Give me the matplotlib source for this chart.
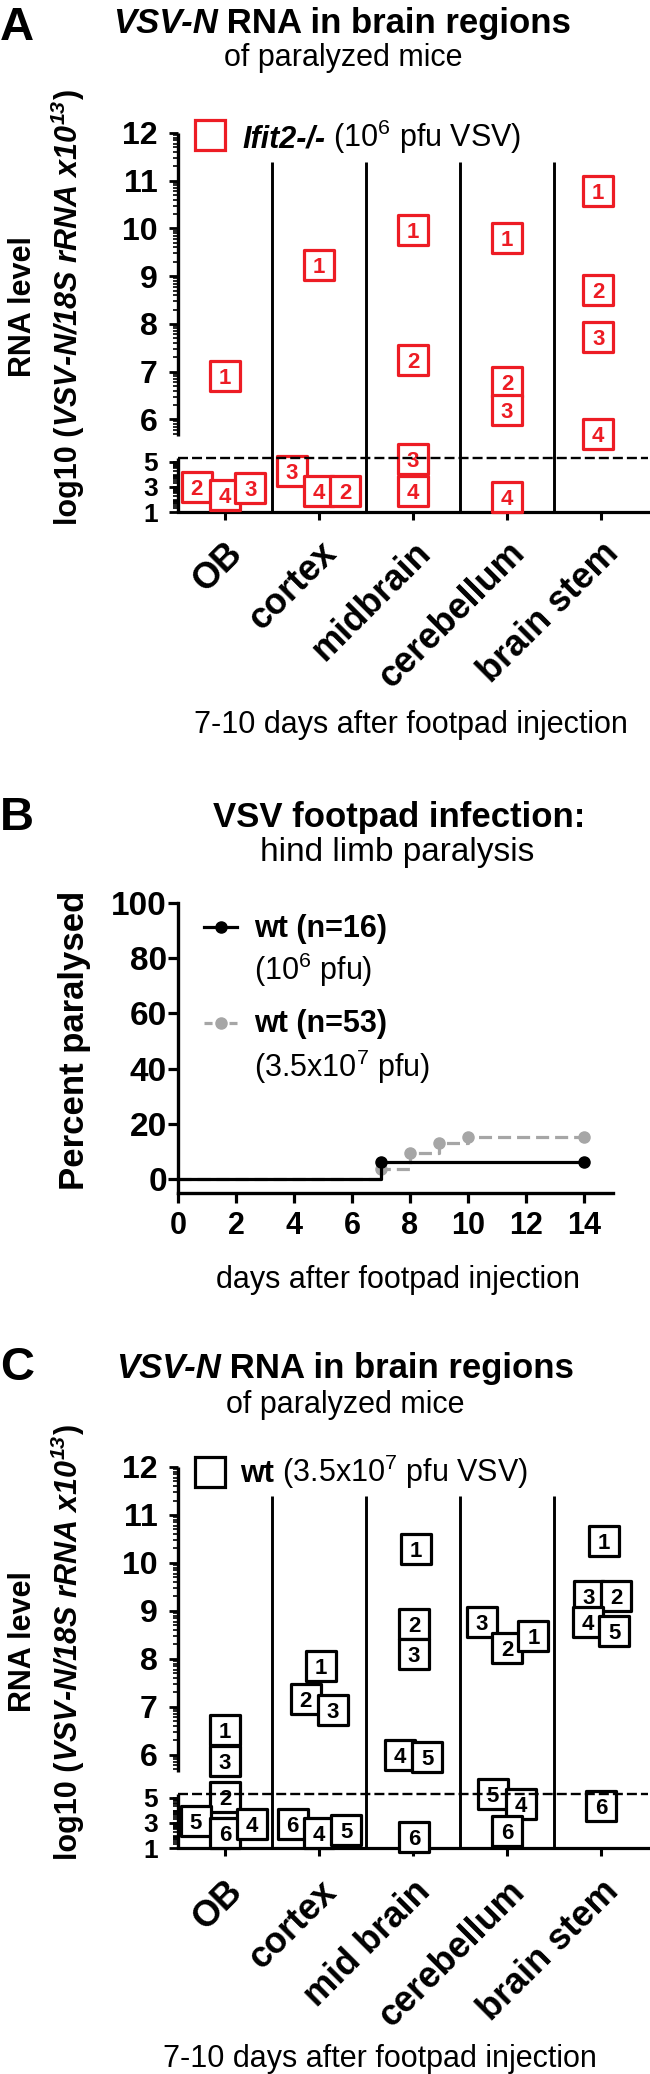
"""VSV-N RNA in brain regions (A, C) and hind limb paralysis after footpad infection (B)."""

import numpy as np
import matplotlib
matplotlib.use("Agg")
import matplotlib.pyplot as plt
from matplotlib.lines import Line2D

W, H, DPI = 650, 2074, 100
RED = "#ed1c24"
GREY = "#a6a6a6"

# Panel A: Ifit2-/- mice, 10^6 pfu (region index, x jitter, log10 level, mouse id)
A_REGIONS = ["OB", "cortex", "midbrain", "cerebellum", "brain stem"]
A_REGION = [0, 0, 0, 0, 1, 1, 1, 1, 2, 2, 2, 2, 3, 3, 3, 3, 4, 4, 4, 4]
A_DX = [0, -0.30, 0, 0.27, 0, -0.29, 0, 0.28, 0, 0, 0, 0,
        0, 0, 0, 0, -0.03, -0.03, -0.03, -0.03]
A_LEVEL = [6.91, 2.99, 2.35, 2.91, 9.23, 4.26, 2.67, 2.67, 9.97, 7.24, 5.22, 2.67,
           9.80, 6.78, 6.19, 2.19, 10.78, 8.71, 7.72, 5.69]
A_MOUSE = ["1", "2", "4", "3", "1", "3", "4", "2", "1", "2", "3", "4",
           "1", "2", "3", "4", "1", "2", "3", "4"]

# Panel B: Kaplan-Meier style paralysis curves
B_DAYS_LOW = [0, 7, 14]
B_PCT_LOW = [0, 6.25, 6.25]
B_DAYS_HIGH = [0, 7, 8, 9, 10, 14]
B_PCT_HIGH = [0, 3.77, 9.43, 13.21, 15.09, 15.09]
B_XTICKS = [0, 2, 4, 6, 8, 10, 12, 14]
B_YTICKS = [0, 20, 40, 60, 80, 100]

# Panel C: wt mice, 3.5x10^7 pfu
C_REGIONS = ["OB", "cortex", "mid brain", "cerebellum", "brain stem"]
C_REGION = [0] * 6 + [1] * 6 + [2] * 6 + [3] * 6 + [4] * 6
C_DX = [0, 0, 0, -0.31, 0, 0.29,
        0.02, -0.14, 0.15, -0.28, 0, 0.29,
        0.03, 0.01, 0.01, -0.14, 0.15, 0.01,
        -0.27, 0, 0.28, -0.15, 0.15, 0,
        0.03, -0.13, 0.16, -0.14, 0.14, 0]
C_LEVEL = [6.51, 5.88, 5.06, 3.15, 2.19, 2.91,
           7.85, 7.16, 6.93, 2.91, 2.19, 2.43,
           10.30, 8.73, 8.10, 5.99, 5.96, 1.88,
           8.77, 8.23, 8.48, 5.30, 4.50, 2.35,
           10.45, 9.32, 9.32, 8.77, 8.59, 4.34]
C_MOUSE = ["1", "3", "2", "5", "6", "4",
           "1", "2", "3", "6", "4", "5",
           "1", "2", "3", "4", "5", "6",
           "3", "2", "1", "5", "4", "6",
           "1", "3", "2", "4", "5", "6"]

RNA_MAJOR = [1, 3, 5, 6, 7, 8, 9, 10, 11, 12]
DETECTION = 5.3

# segmented (Prism-like) y axis: level -> height in px above the x axis
BREAK_LEVEL = [1, 5.3, 5.65, 12]
BREAK_HEIGHT = [0, 54, 76, 379]

plt.rcParams["font.family"] = ["Liberation Sans", "DejaVu Sans"]
plt.rcParams["lines.scale_dashes"] = False

BOLD = dict(fontweight="bold")
BOLD_IT = dict(fontweight="bold", fontstyle="italic")
REG = dict()


def fx(x):
    return x / W


def fy(y):
    return 1 - y / H


def _piecewise(v, xs, ys):
    v = np.asarray(v, dtype=float)
    out = np.interp(v, xs, ys)
    lo_slope = (ys[1] - ys[0]) / (xs[1] - xs[0])
    hi_slope = (ys[-1] - ys[-2]) / (xs[-1] - xs[-2])
    out = np.where(v < xs[0], ys[0] + (v - xs[0]) * lo_slope, out)
    out = np.where(v > xs[-1], ys[-1] + (v - xs[-1]) * hi_slope, out)
    return out


def forward(v):
    return _piecewise(v, BREAK_LEVEL, BREAK_HEIGHT)


def inverse(h):
    return _piecewise(h, BREAK_HEIGHT, BREAK_LEVEL)


def text_runs(fig, x, y, runs, size, ha="center", rotation=0):
    """Write mixed-style text pieces one after another (pixel coords, baseline y)."""
    renderer = fig.canvas.get_renderer()
    widths = []
    for s, style in runs:
        t = fig.text(0, 0, s, fontsize=size, **style)
        widths.append(t.get_window_extent(renderer).width)
        t.remove()
    pos = {"left": 0.0, "center": -sum(widths) / 2, "right": -sum(widths)}[ha]
    for (s, style), w in zip(runs, widths):
        if rotation:
            fig.text(fx(x), fy(y - pos), s, fontsize=size, rotation=90,
                     rotation_mode="anchor", ha="left", va="baseline", **style)
        else:
            fig.text(fx(x + pos), fy(y), s, fontsize=size, ha="left",
                     va="baseline", **style)
        pos += w


def rna_panel(fig, top, bottom, regions, region, dx, level, mouse, color, label_pad):
    ax = fig.add_axes([fx(178), fy(bottom), (648 - 178) / W, (bottom - top) / H])
    ax.set_yscale("function", functions=(forward, inverse))
    ax.set_xlim(-0.5, 4.5)
    ax.set_ylim(1, 12)
    ax.spines[["top", "right", "left"]].set_visible(False)
    ax.spines["bottom"].set_linewidth(2.3)
    for lo, hi in [(BREAK_LEVEL[0], BREAK_LEVEL[1]), (BREAK_LEVEL[2], BREAK_LEVEL[3])]:
        ax.plot([-0.5, -0.5], [lo, hi], color="black", lw=2.4, clip_on=False,
                solid_capstyle="butt")
    ax.vlines(np.arange(len(regions) - 1) + 0.5, 1, 11.4, color="black", lw=2.1)
    ax.axhline(DETECTION, color="black", lw=1.7, dashes=(7.2, 2.9), zorder=6)

    xs = np.array(region) + np.array(dx)
    for i, (x, y, m) in enumerate(zip(xs, level, mouse)):
        z = 3 + i * 0.01
        ax.scatter([x], [y], marker="s", s=21 ** 2, facecolor="white",
                   edgecolor=color, linewidth=2.3, zorder=z, clip_on=False)
        ax.text(x, y, m, color=color, ha="center", va="center_baseline",
                fontsize=16, fontweight="bold", zorder=z + 0.005)

    ax.set_yticks(RNA_MAJOR, [str(t) for t in RNA_MAJOR], fontweight="bold")
    for lab, t in zip(ax.get_yticklabels(), RNA_MAJOR):
        lab.set_fontsize(19 if t <= 5 else 23)
    minor = []
    for n in range(1, 12):
        for k in range(2, 10):
            t = n + np.log10(k)
            if t <= BREAK_LEVEL[1] or BREAK_LEVEL[2] <= t <= 12:
                minor.append(t)
    ax.set_yticks(minor, minor=True)
    ax.tick_params(axis="y", which="major", length=6.5, width=2.0, pad=8)
    ax.tick_params(axis="y", which="minor", length=3.6, width=1.2)
    ax.set_xticks(range(len(regions)), regions, rotation=45, ha="right",
                  rotation_mode="anchor", fontsize=26, fontweight="bold")
    ax.tick_params(axis="x", length=5.8, width=2.2, pad=label_pad)
    return ax


def rna_ylabel(fig, cy):
    fig.text(fx(31), fy(cy), "RNA level", fontsize=22, rotation=90,
             rotation_mode="anchor", ha="center", va="baseline", **BOLD)
    text_runs(fig, 77, cy, [("log10 (", BOLD),
                            ("VSV-N/18S rRNA x10$^{\\mathdefault{13}}$", BOLD_IT),
                            (")", BOLD)], 22, ha="center", rotation=90)


def main():
    fig = plt.figure(figsize=(W / DPI, H / DPI), dpi=DPI)

    # ---------------- panel A ----------------
    fig.text(fx(0), fy(40), "A", fontsize=34, ha="left", va="baseline", **BOLD)
    text_runs(fig, 342, 33, [("VSV-N", BOLD_IT), (" RNA in brain regions", BOLD)], 25)
    fig.text(fx(343), fy(66), "of paralyzed mice", fontsize=22, ha="center", va="baseline")
    fig.add_artist(Line2D([fx(210)], [fy(135)], marker="s", markersize=21,
                          mfc="white", mec=RED, mew=2.3, transform=fig.transFigure))
    text_runs(fig, 242, 147, [("Ifit2-/-", BOLD_IT),
                              (" (10$^{\\mathdefault{6}}$ pfu VSV)", REG)], 22, ha="left")
    rna_panel(fig, 133, 512, A_REGIONS, A_REGION, A_DX, A_LEVEL, A_MOUSE, RED, 11)
    rna_ylabel(fig, 307)
    fig.text(fx(411), fy(733), "7-10 days after footpad injection", fontsize=22,
             ha="center", va="baseline")

    # ---------------- panel B ----------------
    fig.text(fx(0), fy(830), "B", fontsize=34, ha="left", va="baseline", **BOLD)
    fig.text(fx(399), fy(827), "VSV footpad infection:", fontsize=25, ha="center",
             va="baseline", **BOLD)
    fig.text(fx(397), fy(861), "hind limb paralysis", fontsize=24, ha="center",
             va="baseline")
    ax = fig.add_axes([fx(178), fy(1193), (613 - 178) / W, (1193 - 903) / H])
    ax.plot(B_DAYS_HIGH, B_PCT_HIGH, drawstyle="steps-post", color=GREY, lw=2.3,
            dashes=(9.4, 4.3), marker="o", markersize=8,
            markevery=list(range(1, len(B_DAYS_HIGH))), clip_on=False, zorder=2)
    ax.plot(B_DAYS_LOW, B_PCT_LOW, drawstyle="steps-post", color="black", lw=2.3,
            marker="o", markersize=8, markevery=[1, 2], clip_on=False, zorder=3)
    ax.set_xlim(0, 15)
    ax.set_ylim(-5.07, 100)
    ax.spines[["top", "right"]].set_visible(False)
    ax.spines[["left", "bottom"]].set_linewidth(2.4)
    ax.set_xticks(B_XTICKS, [str(t) for t in B_XTICKS], fontsize=22, fontweight="bold")
    ax.set_yticks(B_YTICKS, [str(t) for t in B_YTICKS], fontsize=24, fontweight="bold")
    ax.tick_params(axis="x", length=7, width=2.3, pad=6)
    ax.tick_params(axis="y", length=7, width=2.3, pad=1)
    fig.text(fx(84), fy(1040), "Percent paralysed", fontsize=25, rotation=90,
             rotation_mode="anchor", ha="center", va="baseline", **BOLD)
    fig.add_artist(Line2D([fx(204), fx(221), fx(237)], [fy(927)] * 3, color="black",
                          lw=2.3, marker="o", markersize=8, markevery=[1],
                          transform=fig.transFigure))
    fig.add_artist(Line2D([fx(204), fx(221), fx(237)], [fy(1023)] * 3, color=GREY,
                          lw=2.3, dashes=(5.8, 12.2), marker="o", markersize=8,
                          markevery=[1], transform=fig.transFigure))
    fig.text(fx(254), fy(937), "wt (n=16)", fontsize=22, ha="left", va="baseline", **BOLD)
    fig.text(fx(254), fy(980), "(10$^{\\mathdefault{6}}$ pfu)", fontsize=22, ha="left",
             va="baseline")
    fig.text(fx(254), fy(1032), "wt (n=53)", fontsize=22, ha="left", va="baseline", **BOLD)
    fig.text(fx(254), fy(1077), "(3.5x10$^{\\mathdefault{7}}$ pfu)", fontsize=22,
             ha="left", va="baseline")
    fig.text(fx(398), fy(1288), "days after footpad injection", fontsize=22,
             ha="center", va="baseline")

    # ---------------- panel C ----------------
    fig.text(fx(0), fy(1380), "C", fontsize=34, ha="left", va="baseline", **BOLD)
    text_runs(fig, 345, 1378, [("VSV-N", BOLD_IT), (" RNA in brain regions", BOLD)], 25)
    fig.text(fx(345), fy(1413), "of paralyzed mice", fontsize=22, ha="center",
             va="baseline")
    fig.add_artist(Line2D([fx(210)], [fy(1472)], marker="s", markersize=21,
                          mfc="white", mec="black", mew=2.3, transform=fig.transFigure))
    text_runs(fig, 240, 1482, [("wt", BOLD),
                               (" (3.5x10$^{\\mathdefault{7}}$ pfu VSV)", REG)], 22,
              ha="left")
    rna_panel(fig, 1467, 1848, C_REGIONS, C_REGION, C_DX, C_LEVEL, C_MOUSE, "black", 13)
    rna_ylabel(fig, 1642)
    fig.text(fx(380), fy(2067), "7-10 days after footpad injection", fontsize=22,
             ha="center", va="baseline")

    fig.savefig("out.png", dpi=DPI)
    plt.close(fig)


if __name__ == "__main__":
    main()
